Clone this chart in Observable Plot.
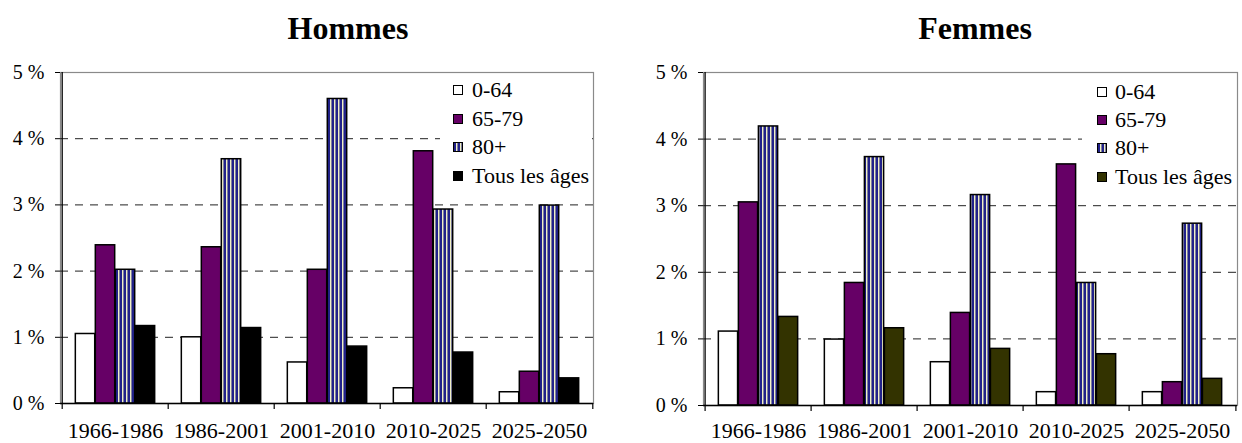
<!DOCTYPE html>
<html>
<head>
<meta charset="utf-8">
<script src="https://cdn.jsdelivr.net/npm/d3@7"></script>
<script src="https://cdn.jsdelivr.net/npm/@observablehq/plot@0.6"></script>
<style>
  html, body { margin: 0; padding: 0; background: #fff; }
  #page { position: relative; width: 1242px; height: 443px; overflow: hidden; background: #fff;
          font-family: "Liberation Serif", "Times New Roman", serif; color: #000; }
  .title { position: absolute; top: 12px; width: 200px; height: 32px; line-height: 32px; text-align: center;
           font-family: "Liberation Serif", "Times New Roman", serif; font-size: 32px; font-weight: bold; }
  .chart { position: absolute; top: 50px; }
  .legend { position: absolute; background: #fff; font-family: "Liberation Serif", "Times New Roman", serif; }
  .legend .item { display: flex; align-items: center; font-size: 22px; white-space: nowrap;
                  font-family: "Liberation Serif", "Times New Roman", serif; }
  .legend .sw { width: 10px; height: 10px; box-sizing: border-box; border: 1.3px solid #000; flex: none; }
</style>
</head>
<body>
<svg width="0" height="0" style="position:absolute">
  <defs>
    <pattern id="stripes" patternUnits="userSpaceOnUse" width="4" height="4">
      <rect x="0" y="0" width="4" height="4" fill="#f0f0c6"></rect>
      <rect x="0" y="0" width="2" height="4" fill="#22228a"></rect>
      <rect x="3" y="0" width="1" height="4" fill="#8080a0"></rect>
    </pattern>
  </defs>
</svg>
<div id="page"></div>
<script>
// ---- data ----
const periods = ["1966-1986", "1986-2001", "2001-2010", "2010-2025", "2025-2050"];
const seriesNames = ["0-64", "65-79", "80+", "Tous les âges"];
const titles = ["Hommes", "Femmes"];
const yTicks = [0, 1, 2, 3, 4, 5];

const hommes_0_64   = [1.05, 1.00, 0.62, 0.23, 0.17];
const hommes_65_79  = [2.39, 2.36, 2.02, 3.81, 0.48];
const hommes_80     = [2.02, 3.69, 4.60, 2.93, 2.99];
const hommes_tous   = [1.17, 1.14, 0.86, 0.77, 0.38];

const femmes_0_64   = [1.11, 0.99, 0.65, 0.20, 0.20];
const femmes_65_79  = [3.05, 1.84, 1.39, 3.62, 0.35];
const femmes_80     = [4.19, 3.73, 3.16, 1.84, 2.73];
const femmes_tous   = [1.33, 1.16, 0.85, 0.77, 0.40];

const hommesFills = ["#ffffff", "#660066", "url(#stripes)", "#000000"];
const femmesFills = ["#ffffff", "#660066", "url(#stripes)", "#333300"];

function toRows(arrays) {
  const rows = [];
  arrays.forEach((arr, j) => arr.forEach((v, i) => rows.push({period: periods[i], series: seriesNames[j], value: v})));
  return rows;
}

function makeChart(arrays, fills, layout) {
  const {width, height, ml, mr, mt, mb, labelPad} = layout;
  const data = toRows(arrays);
  const bw = (width - ml - mr) / periods.length;
  const barW = bw * 0.1875, outer = bw * 0.125;
  const bars = seriesNames.map((s, j) => Plot.barY(data.filter(d => d.series === s), {
    x: "period", y: "value", fill: fills[j], stroke: "#000", strokeWidth: 1.5,
    insetLeft: outer + j * barW, insetRight: bw - outer - (j + 1) * barW
  }));
  return Plot.plot({
    width, height, marginLeft: ml, marginRight: mr, marginTop: mt, marginBottom: mb,
    style: {fontFamily: "'Liberation Serif', 'Times New Roman', serif", fontSize: "20px", color: "#000", background: "transparent"},
    x: {domain: periods, padding: 0, label: null, axis: null},
    y: {domain: [0, 5], label: null, axis: null},
    marks: [
      Plot.frame({stroke: "#8a8a8a", strokeWidth: 1.2}),
      Plot.ruleY([1, 2, 3, 4], {stroke: "#222", strokeWidth: 1, strokeDasharray: "8,7"}),
      ...bars,
      Plot.ruleY([0], {stroke: "#000", strokeWidth: 1.3}),
      Plot.ruleX([periods[0]], {dx: -bw / 2, y1: 0, y2: 5, stroke: "#000", strokeWidth: 1.3}),
      Plot.ruleX(periods, {dx: -bw / 2, y1: 0, y2: 0, insetBottom: -6, stroke: "#000", strokeWidth: 1.2}),
      Plot.ruleX([periods[periods.length - 1]], {dx: bw / 2, y1: 0, y2: 0, insetBottom: -6, stroke: "#000", strokeWidth: 1.2}),
      Plot.axisY({ticks: yTicks, tickFormat: d => d + " %", tickSize: 5, tickPadding: 11, fontSize: 20,
                  fontFamily: "'Liberation Serif', 'Times New Roman', serif", label: null, stroke: "#000"}),
      Plot.axisX({tickSize: 0, tickPadding: labelPad, fontSize: 22,
                  fontFamily: "'Liberation Serif', 'Times New Roman', serif", label: null})
    ]
  });
}

const page = document.getElementById("page");

function addTitle(text, center) {
  const t = document.createElement("div");
  t.className = "title";
  t.style.left = (center - 100) + "px";
  t.textContent = text;
  page.appendChild(t);
}

function addLegend(fills, left, top, width, height, padLeft, rowH, gap) {
  const lg = document.createElement("div");
  lg.className = "legend";
  Object.assign(lg.style, {left: left + "px", top: top + "px", width: width + "px", height: height + "px"});
  seriesNames.forEach((s, j) => {
    const it = document.createElement("div");
    it.className = "item";
    it.style.height = rowH + "px";
    it.style.paddingLeft = padLeft + "px";
    const sw = document.createElement("span");
    sw.className = "sw";
    if (fills[j].startsWith("url")) {
      sw.style.background = "repeating-linear-gradient(90deg, #22228a 0 2px, #f0f0c6 2px 3px, #8080a0 3px 4px)";
    } else {
      sw.style.background = fills[j];
    }
    const tx = document.createElement("span");
    tx.style.marginLeft = gap + "px";
    tx.textContent = s;
    it.appendChild(sw);
    it.appendChild(tx);
    lg.appendChild(it);
  });
  page.appendChild(lg);
}

const left = makeChart([hommes_0_64, hommes_65_79, hommes_80, hommes_tous], hommesFills,
  {width: 620, height: 393, ml: 60, mr: 27, mt: 22, mb: 40, labelPad: 19});
left.classList.add("chart");
left.style.left = "0px";
page.appendChild(left);

const right = makeChart([femmes_0_64, femmes_65_79, femmes_80, femmes_tous], femmesFills,
  {width: 602, height: 393, ml: 63, mr: 5, mt: 22, mb: 38, labelPad: 17});
right.classList.add("chart");
right.style.left = "640px";
page.appendChild(right);

addTitle(titles[0], 348);
addTitle(titles[1], 975);
addLegend(hommesFills, 440, 76, 152, 115, 13, 28.6, 9);
addLegend(femmesFills, 1082, 78, 154, 113, 15, 28.2, 8);
</script>
</body>
</html>
